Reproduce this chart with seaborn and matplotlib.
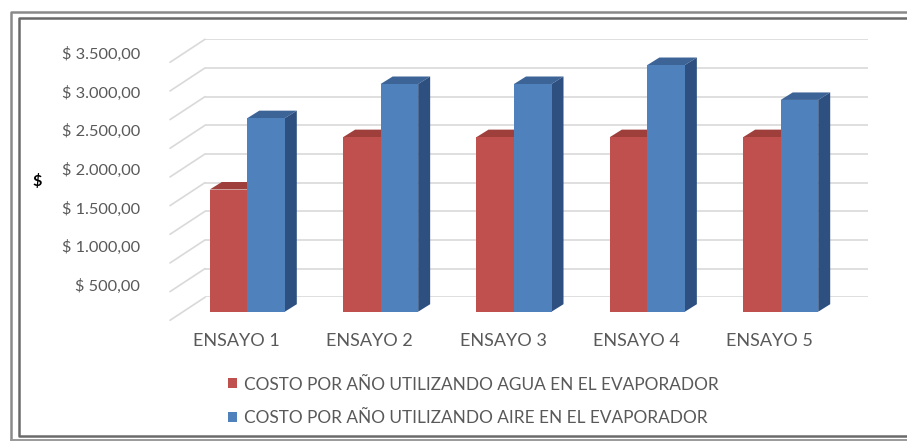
import matplotlib
matplotlib.use("Agg")
import matplotlib.pyplot as plt
from matplotlib.patches import Polygon
from matplotlib.lines import Line2D
import seaborn as sns
import pandas as pd
import numpy as np

# ---- data ----
ensayos = ["ENSAYO 1", "ENSAYO 2", "ENSAYO 3", "ENSAYO 4", "ENSAYO 5"]
serie_agua = "COSTO POR AÑO UTILIZANDO AGUA EN EL EVAPORADOR"
serie_aire = "COSTO POR AÑO UTILIZANDO AIRE EN EL EVAPORADOR"
costo_agua = [1610, 2300, 2300, 2300, 2300]
costo_aire = [2550, 3000, 3000, 3250, 2790]
tick_values = [500, 1000, 1500, 2000, 2500, 3000, 3500]
tick_labels = ["$ 500,00", "$ 1.000,00", "$ 1.500,00", "$ 2.000,00",
               "$ 2.500,00", "$ 3.000,00", "$ 3.500,00"]

df = pd.DataFrame({
    "Ensayo": ensayos * 2,
    "Serie": [serie_agua] * 5 + [serie_aire] * 5,
    "Costo": costo_agua + costo_aire,
})

RED, BLUE = "#C0504D", "#4F81BD"
RED_TOP, BLUE_TOP = "#9E3F3C", "#3C6496"
RED_SIDE, BLUE_SIDE = "#8C3836", "#2E5080"
TXT = "#595959"
FONT = "Lato"

sns.set_theme(style="white")
plt.rcParams["font.family"] = [FONT, "DejaVu Sans"]

W, H = 907, 441
fig = plt.figure(figsize=(W / 100, H / 100), dpi=100)
fig.patch.set_facecolor("white")
renderer = fig.canvas.get_renderer()


def box(l, t, r, b):
    return [l / W, 1 - b / H, (r - l) / W, (b - t) / H]


def fit_size(text, target_px, base=10.0):
    t = fig.text(0, 0, text, fontsize=base)
    w = t.get_window_extent(renderer).width
    t.remove()
    return base * target_px / w


def fline(xs, ys, color, lw):
    fig.add_artist(Line2D([x / W for x in xs], [1 - y / H for y in ys],
                          transform=fig.transFigure, color=color, lw=lw))


# ---- frames (left, top, bottom; cut off on the right) ----
fline([11, 11, 907], [445, 12, 12], "#8a8a8a", 1.8)
fline([907, 19, 19, 907], [18, 18, 436, 436], "#6a6a6a", 1.8)
fline([11, 907], [440, 440], "#9a9a9a", 1.4)

# ---- back wall with gridlines ----
wall_l, wall_r, wall_t, wall_b = 205, 868, 39.3, 297.3
axw = fig.add_axes(box(wall_l, wall_t, wall_r, wall_b))
axw.set_xlim(0, 1)
axw.set_ylim(0, 4500)
axw.axis("off")
grid_vals = np.arange(0, 4501, 500)
for v in grid_vals:
    axw.axhline(v, color="#d9d9d9", lw=1.2, zorder=0)
dx_w = -35 / (wall_r - wall_l)
dy_w = 23 * 4500 / (wall_b - wall_t)
for v in grid_vals:
    axw.plot([dx_w, 0], [v - dy_w, v], color="#d9d9d9", lw=1.2, clip_on=False, zorder=0)

# ---- bars ----
px_per_cat = 133.35
left_px = 247.3 - 0.5 * px_per_cat
right_px = left_px + 5 * px_per_cat
bottom_px, top_px = 311.7, 39.3
scale = 0.0759  # px per unit
ax = fig.add_axes(box(left_px, top_px, right_px, bottom_px))
ax.set_facecolor("none")
sns.barplot(data=df, x="Ensayo", y="Costo", hue="Serie", palette=[RED, BLUE],
            saturation=1, width=0.5625, ax=ax, linewidth=0, errorbar=None)
ax.set_xlim(-0.5, 4.5)
ax.set_ylim(0, (bottom_px - top_px) / scale)
ax.axis("off")
handles, labels = ax.get_legend_handles_labels()
if ax.get_legend() is not None:
    ax.get_legend().remove()

ddx = 12 / px_per_cat
ddy = 7.5 / scale
for p in list(ax.patches):
    x0, w, h = p.get_x(), p.get_width(), p.get_height()
    is_red = np.allclose(p.get_facecolor()[:3], matplotlib.colors.to_rgb(RED), atol=0.02)
    top_c = RED_TOP if is_red else BLUE_TOP
    side_c = RED_SIDE if is_red else BLUE_SIDE
    ax.add_patch(Polygon([(x0, h), (x0 + w, h), (x0 + w + ddx, h + ddy), (x0 + ddx, h + ddy)],
                         closed=True, fc=top_c, ec="none", zorder=0.5, clip_on=False))
    ax.add_patch(Polygon([(x0 + w, 0), (x0 + w + ddx, ddy), (x0 + w + ddx, h + ddy), (x0 + w, h)],
                         closed=True, fc=side_c, ec="none", zorder=0.5, clip_on=False))
    p.set_zorder(1)
    p.set_clip_on(False)

# ---- value labels (front scale) ----
tick_fs = fit_size("$ 3.500,00", 78)
axl = fig.add_axes(box(150, 52.7, 160, 323.7))
axl.set_xlim(0, 1)
axl.set_ylim(0, 3500)
axl.set_facecolor("none")
for s in axl.spines.values():
    s.set_visible(False)
axl.set_xticks([])
axl.set_yticks(tick_values)
axl.set_yticklabels(tick_labels, fontsize=tick_fs, color=TXT)
axl.tick_params(axis="y", length=0, pad=7)

fig.text(37 / W, 1 - 181 / H, "$", fontsize=tick_fs, fontweight="bold", color="black",
         ha="center", va="center")

# ---- category labels ----
cat_fs = fit_size("ENSAYO 1", 86)
for i, name in enumerate(ensayos):
    xc = ax.transData.transform((i, 0))[0] - 11
    fig.text(xc / W, 1 - 341 / H, name, fontsize=cat_fs, color=TXT, ha="center", va="center")

# ---- legend ----
leg_fs = fit_size(serie_agua, 470)
fs_px = leg_fs * 100 / 72
fig.legend(handles, labels, loc="upper left", bbox_to_anchor=(228 / W, 1 - 376.5 / H),
           frameon=False, fontsize=leg_fs, labelcolor=TXT, handlelength=0.5,
           handleheight=0.5, handletextpad=0.45, labelspacing=(34.5 - fs_px) / fs_px,
           borderaxespad=0, borderpad=0)

fig.savefig("out.png", dpi=100, facecolor="white")
